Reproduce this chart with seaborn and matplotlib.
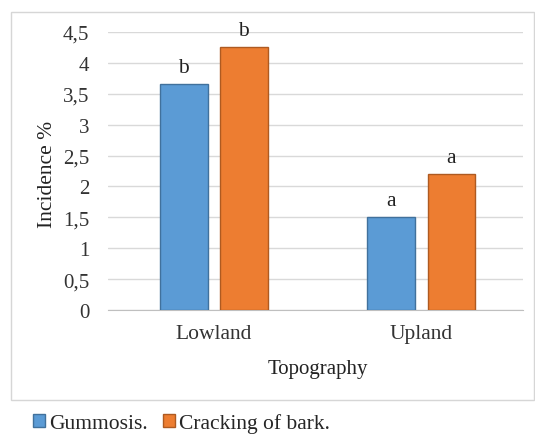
import matplotlib
matplotlib.use("Agg")
import matplotlib.pyplot as plt
import seaborn as sns
import pandas as pd
from matplotlib.patches import Rectangle, Patch

categories = ["Lowland", "Upland"]
series_names = ["Gummosis.", "Cracking of bark."]
gummosis = [3.66, 1.5]
cracking = [4.25, 2.2]
letters_gummosis = ["b", "a"]
letters_cracking = ["b", "a"]
yticks = [0, 0.5, 1, 1.5, 2, 2.5, 3, 3.5, 4, 4.5]

sns.set_style("white")
plt.rcParams["font.family"] = ["Liberation Serif", "DejaVu Serif"]

df = pd.DataFrame({
    "Topography": categories * 2,
    "Series": [series_names[0]] * 2 + [series_names[1]] * 2,
    "Value": gummosis + cracking,
})

colors = ["#5B9BD5", "#ED7D31"]
edges = ["#41719C", "#AE5A21"]

W, H = 535, 435
fig = plt.figure(figsize=(W/100, H/100), dpi=100)
fig.patches.append(Rectangle((10.5/W, 1-401/H), 523/W, 388.5/H,
                             transform=fig.transFigure, fill=False,
                             edgecolor="#D6D6D6", linewidth=1.0, zorder=0))
ax = fig.add_axes([108/W, 1-311/H, 415/W, 278/H])

sns.barplot(data=df, x="Topography", y="Value", hue="Series",
            palette=colors, saturation=1, width=0.58, gap=0.21, ax=ax,
            legend=False, errorbar=None, zorder=3)

for i, cont in enumerate(ax.containers):
    labels = letters_gummosis if i == 0 else letters_cracking
    for bar, lab in zip(cont, labels):
        bar.set_edgecolor(edges[i])
        bar.set_linewidth(1.0)
        ax.text(bar.get_x() + bar.get_width()/2, bar.get_height() + 0.2, lab,
                ha="center", va="baseline", fontsize=15.5, color="#222222",
                clip_on=False)

ax.set_ylim(0, 4.5)
ax.set_xlim(-0.51, 1.49)
ax.set_yticks(yticks)
ax.set_yticklabels([("%g" % v).replace(".", ",") for v in yticks],
                   fontsize=15, color="#333333")
ax.set_xticks(range(len(categories)))
ax.set_xticklabels(categories, fontsize=15.5, color="#333333")
ax.tick_params(axis="x", length=0, pad=10)
ax.tick_params(axis="y", length=0, pad=13.5)
ax.yaxis.grid(True, color="#D9D9D9", linewidth=1.0, zorder=0)
ax.set_axisbelow(True)
for s in ["top", "right", "left"]:
    ax.spines[s].set_visible(False)
ax.spines["bottom"].set_color("#BFBFBF")
ax.set_xlabel("")
ax.set_ylabel("Incidence %", fontsize=15.5, color="#222222")
ax.yaxis.label.set_va("center")
ax.yaxis.set_label_coords(-0.145, 0.49)
fig.text(318/W, 1-374/H, "Topography", ha="center", va="baseline",
         fontsize=15, color="#222222")

handles = [Patch(facecolor=colors[i], edgecolor=edges[i], label=series_names[i])
           for i in range(2)]
fig.legend(handles=handles, loc="center left", bbox_to_anchor=(33/W, 1-424/H),
           ncol=2, frameon=False, fontsize=15.5, handlelength=0.55,
           handleheight=0.55, handletextpad=0.2, columnspacing=0.7,
           borderpad=0, borderaxespad=0)

fig.savefig("out.png", dpi=100)
